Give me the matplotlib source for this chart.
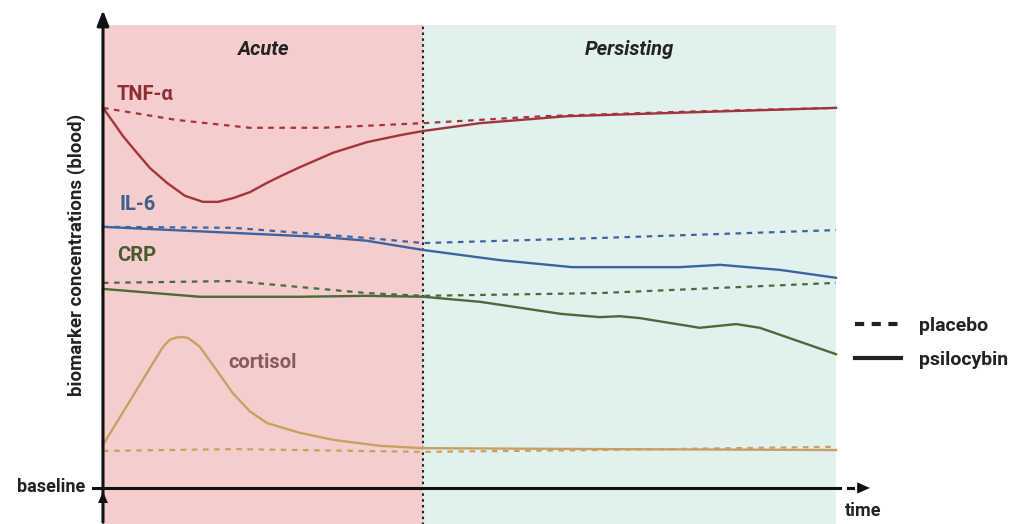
import numpy as np
import matplotlib
matplotlib.use("Agg")
import matplotlib.pyplot as plt
from matplotlib.lines import Line2D

plt.rcParams['font.family'] = ['Roboto', 'DejaVu Sans']

# phase boundary (time units, 0..100 across the plot)
acute_end = 43.7

# TNF-alpha
tnf_placebo_t = [0, 10, 20, 30, 43.7, 60, 80, 100]
tnf_placebo_v = [82.1, 79.5, 77.8, 77.8, 78.8, 80.3, 81.3, 82.1]
tnf_psilo_t = [0, 1.36, 2.73, 4.09, 6.41, 8.73, 11.19, 13.64, 15.69, 17.74, 20.05, 22.37,
               24.56, 26.88, 31.38, 36.02, 40.52, 43.66, 51.43, 63.3, 81.45, 100]
tnf_psilo_v = [82.1, 79.1, 76.0, 73.4, 69.1, 65.9, 63.1, 61.8, 61.8, 62.6, 63.9, 65.9,
               67.6, 69.3, 72.4, 74.7, 76.2, 77.1, 78.8, 80.3, 81.2, 82.1]

# IL-6
il6_placebo_t = [0, 17.7, 36.0, 43.7, 67.8, 100]
il6_placebo_v = [56.4, 56.2, 54.0, 52.9, 54.0, 55.7]
il6_psilo_t = [0, 17.7, 30.0, 36.0, 43.7, 54.2, 64.0, 78.7, 84.2, 92.4, 100]
il6_psilo_v = [56.4, 55.1, 54.2, 53.4, 51.4, 49.2, 47.7, 47.7, 48.2, 47.1, 45.4]

# CRP
crp_placebo_t = [0, 17.7, 26.9, 36.0, 43.7, 67.8, 100]
crp_placebo_v = [44.3, 44.7, 43.4, 42.1, 41.5, 42.1, 44.3]
crp_psilo_t = [0, 13.2, 26.9, 36.0, 43.7, 51.5, 62.5, 67.8, 70.5, 73.2, 81.4, 86.4, 89.6, 100]
crp_psilo_v = [43.0, 41.3, 41.3, 41.5, 41.3, 40.2, 37.6, 36.9, 37.1, 36.7, 34.6, 35.4, 34.6, 28.9]

# cortisol
cort_placebo_t = [0, 17.7, 43.7, 67.8, 100]
cort_placebo_v = [8.0, 8.4, 7.8, 8.2, 8.9]
cort_psilo_t = [0, 2.0, 4.1, 6.4, 8.2, 9.1, 10.0, 10.8, 11.6, 12.4, 13.2, 15.3, 17.7, 20.0,
                22.4, 26.9, 31.4, 37.8, 43.7, 67.8, 100]
cort_psilo_v = [9.3, 14.5, 19.9, 25.9, 30.5, 32.0, 32.5, 32.6, 32.4, 31.5, 30.5, 25.9, 20.5,
                16.6, 14.0, 11.9, 10.4, 9.1, 8.6, 8.4, 8.2]

markers = ['TNF-α', 'IL-6', 'CRP', 'cortisol']
colors = ['#a3343a', '#3d64a0', '#4b6a3a', '#c9a064']
label_colors = ['#8b2f35', '#3c5f8c', '#4a5a30', '#8a5a5a']
label_pos = [(1.9, 85.0), (2.3, 61.2), (1.9, 50.2), (17.1, 27.0)]

series = [
    (tnf_placebo_t, tnf_placebo_v, tnf_psilo_t, tnf_psilo_v),
    (il6_placebo_t, il6_placebo_v, il6_psilo_t, il6_psilo_v),
    (crp_placebo_t, crp_placebo_v, crp_psilo_t, crp_psilo_v),
    (cort_placebo_t, cort_placebo_v, cort_psilo_t, cort_psilo_v),
]

fig = plt.figure(figsize=(10.24, 5.24), dpi=100)
ax = fig.add_axes([0, 0, 1, 1])
ax.set_xlim(-14.05, 125.65)
ax.set_ylim(-7.78, 105.4)
ax.axis('off')

# phase backgrounds
ax.fill_between([0, acute_end], -8, 100, color='#f5cdcd', lw=0, zorder=0)
ax.fill_between([acute_end, 100], -8, 100, color='#e0f1ee', lw=0, zorder=0)
ax.plot([acute_end, acute_end], [-8, 100], color='#222222', lw=1.5,
        linestyle=(0, (1.2, 1.6)), zorder=2)

ax.text(acute_end / 2, 94.8, 'Acute', ha='center', va='center', fontsize=14.5,
        fontweight='bold', fontstyle='italic', color='#222222')
ax.text((acute_end + 100) / 2, 94.8, 'Persisting', ha='center', va='center', fontsize=14.5,
        fontweight='bold', fontstyle='italic', color='#222222')

# biomarker curves
for (pt, pv, st, sv), name, c, lc, pos in zip(series, markers, colors, label_colors, label_pos):
    ax.plot(pt, pv, color=c, lw=1.6, linestyle=(0, (2.5, 2.5)), zorder=3)
    ax.plot(st, sv, color=c, lw=1.7, zorder=4, solid_joinstyle='round')
    ax.text(pos[0], pos[1], name, color=lc, fontsize=14.5, fontweight='bold',
            ha='left', va='center')

# axes arrows
ax.annotate('', xy=(0, 103.8), xytext=(0, -8),
            arrowprops=dict(arrowstyle='-|>,head_length=0.9,head_width=0.35',
                            color='#111111', lw=2.2), zorder=6)
ax.annotate('', xy=(0, -0.2), xytext=(0, -3.9),
            arrowprops=dict(arrowstyle='-|>,head_length=0.8,head_width=0.35',
                            color='#111111', lw=0.1), zorder=6)
ax.plot([-1.4, 100.5], [0, 0], color='#111111', lw=2.2, zorder=6)
ax.plot([101.6, 102.3], [0, 0], color='#111111', lw=2.2, zorder=6)
ax.annotate('', xy=(105.0, 0), xytext=(102.5, 0),
            arrowprops=dict(arrowstyle='-|>,head_length=0.9,head_width=0.4',
                            color='#111111', lw=0.1), zorder=6)

ax.text(-2.4, 0.3, 'baseline', ha='right', va='center', fontsize=13,
        fontweight='bold', color='#222222')
ax.text(103.7, -5.0, 'time', ha='center', va='center', fontsize=13,
        fontweight='bold', color='#222222')
ax.text(-3.55, 50.3, 'biomarker concentrations (blood)', rotation=90, ha='center',
        va='center', fontsize=13.5, fontweight='bold', color='#222222')

# legend
handles = [Line2D([], [], color='#222222', lw=3, linestyle=(0, (2.2, 1.8))),
           Line2D([], [], color='#222222', lw=3)]
leg = ax.legend(handles, ['placebo', 'psilocybin'], loc='center left',
                bbox_to_anchor=(837 / 1024, 1 - 343 / 524), frameon=False,
                handlelength=2.4, handletextpad=0.9, labelspacing=0.8,
                prop={'weight': 'bold', 'size': 14})
for t in leg.get_texts():
    t.set_color('#222222')

fig.savefig('out.png', dpi=100, facecolor='white')
